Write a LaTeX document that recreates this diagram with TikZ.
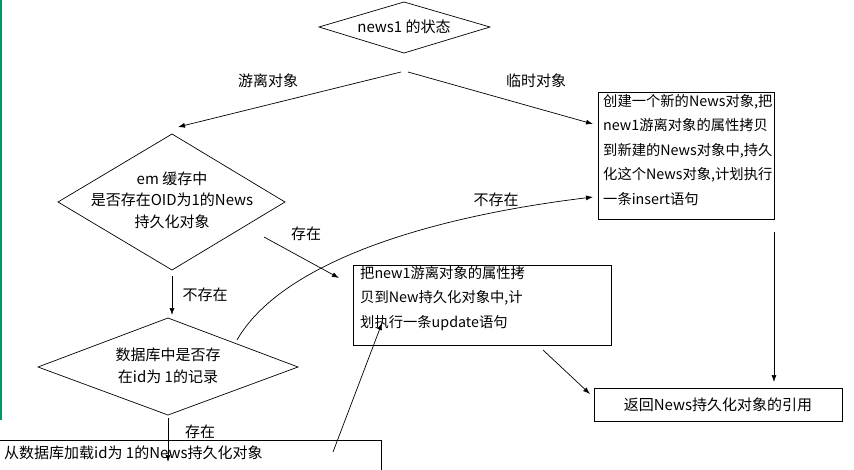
\documentclass[tikz,border=0pt]{standalone}
\usepackage{fontspec}
\setmainfont{Noto Sans CJK SC}
\usetikzlibrary{arrows.meta}
\begin{document}
\begin{tikzpicture}[x=1pt,y=-1pt,
  every node/.style={font=\fontsize{15}{21.5}\selectfont},
  ln/.style={draw=black,line width=0.7pt},
  arr/.style={ln,-{Latex[length=7pt,width=5pt]}},
  lbl/.style={inner sep=0pt},
  txt/.style={inner sep=0pt,align=center},
  boxt/.style={inner sep=0pt,align=left,anchor=north west,font=\fontsize{14.3}{24.5}\selectfont}]
\useasboundingbox (0,0) rectangle (854,469);
\fill[teal!80!green] (0,0) rectangle (2,420);
% diamonds
\draw[ln] (319,27) coordinate (d1l) -- (404,2) -- (490,27) -- (404,53) -- cycle;
\node[txt] (d1) at (404,27) {news1 的状态};
\draw[ln] (58,202) -- (172,134) coordinate (d2t) -- (285,202) -- (172,270) -- cycle;
\node[txt] (d2) at (172,200) {em 缓存中\\是否存在OID为1的News\\持久化对象};
\draw[ln] (38,367) -- (168,318) coordinate (d3t) -- (298,367) -- (168,415) -- cycle;
\node[txt] (d3) at (168,366) {数据库中是否存\\在id为 1的记录};
% boxes
\draw[ln] (598,92) rectangle (774,219);
\node[boxt] (b1) at (603,94) {创建一个新的News对象,把\\new1游离对象的属性拷贝\\到新建的News对象中,持久\\化这个News对象,计划执行\\一条insert语句};
\draw[ln] (353,265) rectangle (611,345);
\node[boxt] (b2) at (360,266) {把new1游离对象的属性拷\\贝到New持久化对象中,计\\划执行一条update语句};
\draw[ln] (594,388) rectangle (842,421);
\node[txt] (b3) at (718,405) {返回News持久化对象的引用};
\draw[ln] (-2,440) rectangle (381,475);
\node[boxt,font=\fontsize{15}{21.5}\selectfont] (b4) at (4,446) {从数据库加载id为 1的News持久化对象};
% coordinates
\coordinate (s1) at (401,72); \coordinate (s2) at (408,72);
\coordinate (e1) at (178,127); \coordinate (e2) at (593,124);
% arrows
\draw[arr] (s1) -- (e1);
\node[lbl] (l1) at (268,81) {游离对象};
\draw[arr] (s2) -- (e2);
\node[lbl] (l2) at (536,81) {临时对象};
\coordinate (a1) at (172,276); \coordinate (a2) at (172,315);
\draw[arr] (a1) -- (a2);
\node[lbl] (l3) at (205,295) {不存在};
\coordinate (a3) at (168,418); \coordinate (a4) at (168,462);
\draw[arr] (a3) -- (a4);
\node[lbl] (l4) at (200,432) {存在};
\coordinate (a5) at (264,237); \coordinate (a6) at (339,278);
\draw[arr] (a5) -- (a6);
\node[lbl] (l5) at (306,234) {存在};
\coordinate (a7) at (237,340); \coordinate (a8) at (593,197);
\draw[arr] (a7) .. controls (280,265) and (420,218) .. (a8);
\node[lbl] (l6) at (496,200) {不存在};
\coordinate (a9) at (333,452); \coordinate (a10) at (382,323);
\draw[arr] (a9) -- (a10);
\coordinate (a11) at (774,232); \coordinate (a12) at (774,382);
\draw[arr] (a11) -- (a12);
\coordinate (a13) at (543,350); \coordinate (a14) at (590,394);
\draw[arr] (a13) -- (a14);
\end{tikzpicture}
\end{document}
